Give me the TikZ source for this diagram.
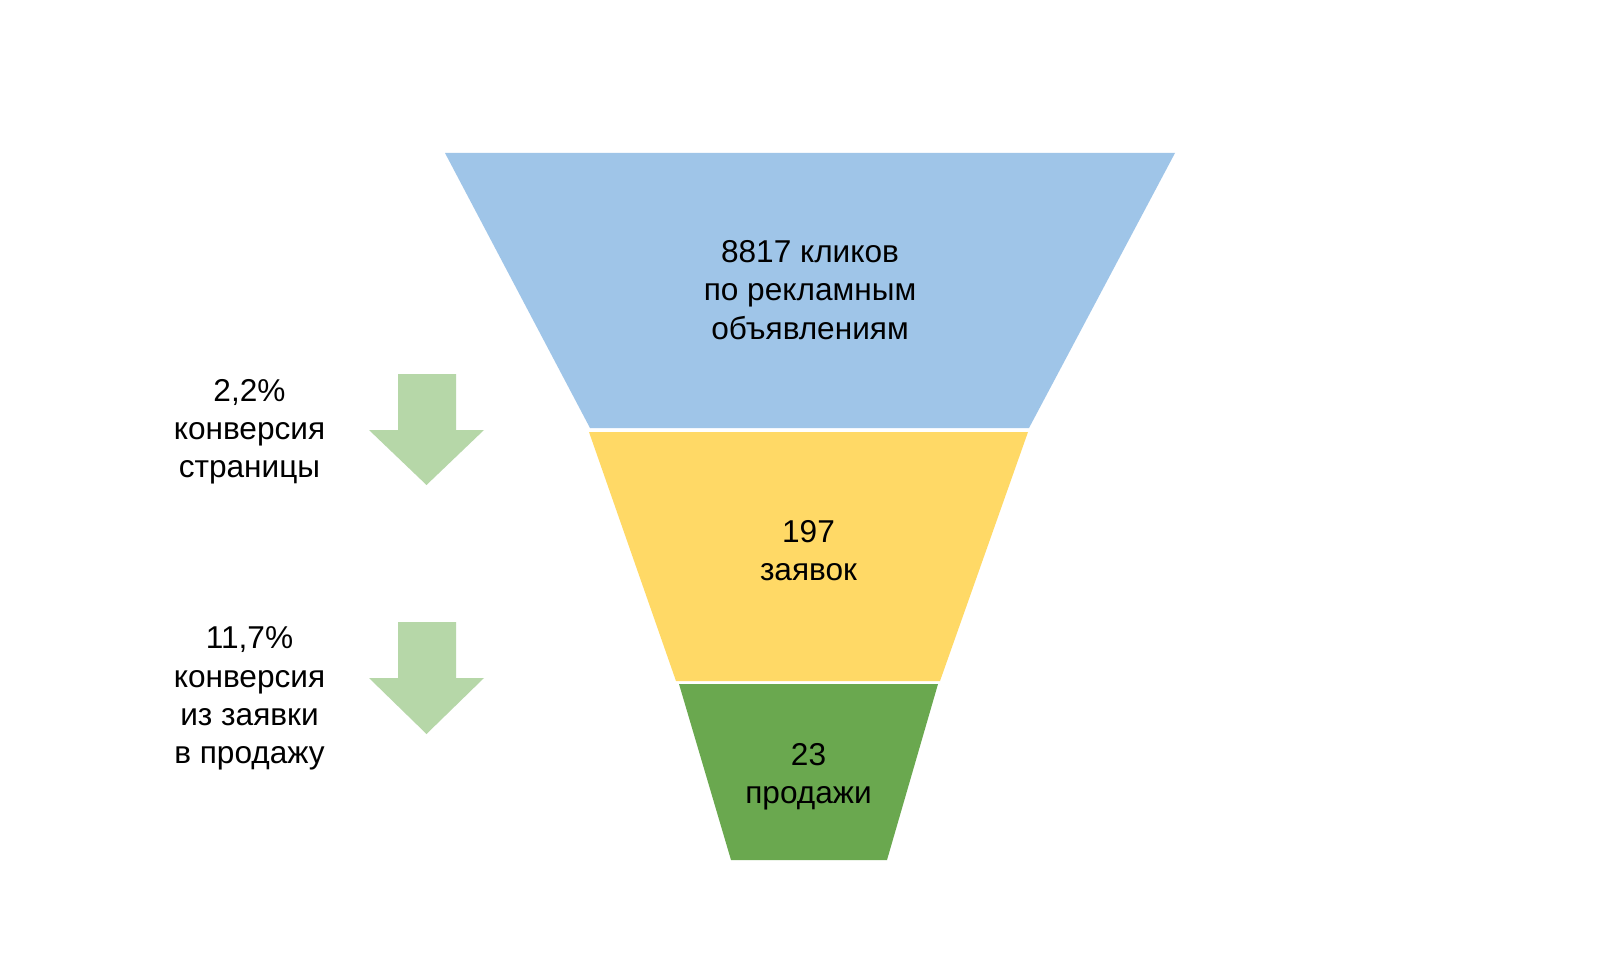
\documentclass[tikz,border=0pt]{standalone}
\usepackage{fontspec}
\setmainfont{Liberation Sans}
\definecolor{fblue}{HTML}{9FC5E8}
\definecolor{fyellow}{HTML}{FFD966}
\definecolor{fgreen}{HTML}{6AA84F}
\definecolor{agreen}{HTML}{B6D7A8}
\tikzset{
  funneltext/.style={align=center, inner sep=0pt, font=\fontsize{31.6}{38.2}\selectfont, text=black},
  sidetext/.style={align=center, inner sep=0pt, font=\fontsize{31.6}{38.2}\selectfont, text=black},
  downarrow/.style={fill=agreen, draw=none}
}
\begin{document}
\begin{tikzpicture}[x=1pt,y=-1pt]
\useasboundingbox[fill=white] (0,0) rectangle (1620,960);
% funnel
\fill[fblue] (445,153) -- (1175,153) -- (1029,428) -- (590,428) -- cycle;
\fill[fyellow] (589,432) -- (1028,432) -- (940,681) -- (676,681) -- cycle;
\fill[fgreen] (679,684) -- (938,684) -- (887,860) -- (731,860) -- cycle;
\node[funneltext] (t1) at (810,290) {8817 кликов\\по рекламным\\объявлениям};
\node[funneltext] (t2) at (808.5,551) {197\\заявок};
\node[funneltext] (t3) at (808.5,777) {23\\продажи};
% arrows
\fill[downarrow] (398,374) -- (456,374) -- (456,430) -- (484,430) -- (426.5,485) -- (369,430) -- (398,430) -- cycle;
\fill[downarrow] (398,622) -- (456,622) -- (456,678) -- (484,678) -- (426.5,734) -- (369,678) -- (398,678) -- cycle;
\node[sidetext] (s1) at (249.5,432) {2,2\%\\конверсия\\страницы};
\node[sidetext] (s2) at (249.5,698.5) {11,7\%\\конверсия\\из заявки\\в продажу};
\end{tikzpicture}
\end{document}
